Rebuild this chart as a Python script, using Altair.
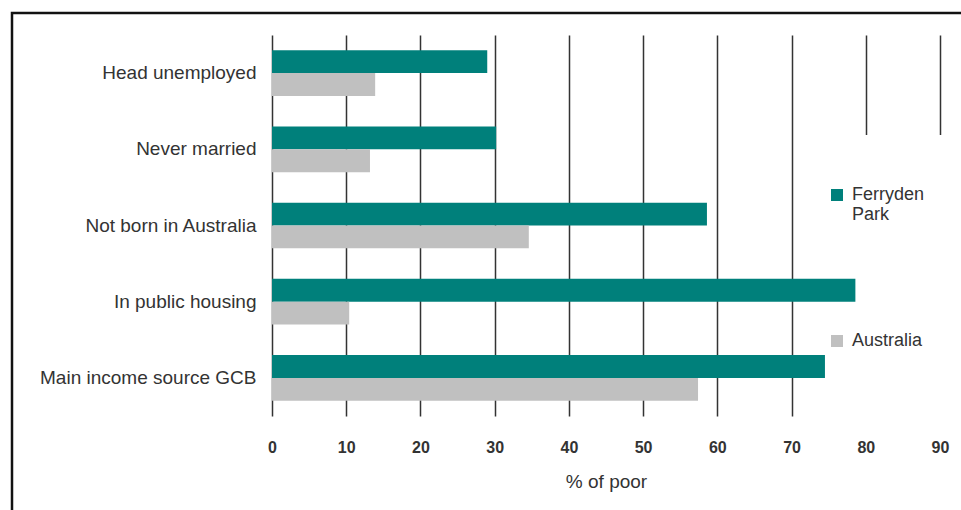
import altair as alt
import pandas as pd

categories = ["Head unemployed", "Never married", "Not born in Australia",
              "In public housing", "Main income source GCB"]
series = ["Ferryden Park", "Australia"]
ferryden = [29.0, 30.2, 58.6, 78.6, 74.5]
australia = [13.9, 13.2, 34.6, 10.4, 57.4]
ticks = [0, 10, 20, 30, 40, 50, 60, 70, 80, 90]
colors = ["#00807b", "#c0c0c0"]

rows = []
for c, f, a in zip(categories, ferryden, australia):
    rows.append({"category": c, "series": series[0], "value": f})
    rows.append({"category": c, "series": series[1], "value": a})
df = pd.DataFrame(rows)

FONT = "Liberation Sans"
TXT = "#333333"

# white box behind the legend (hides the grid there, stays under the bars)
mask = alt.Chart(alt.Data(values=[{"k": 1}])).mark_rect(
    fill="white", strokeWidth=0
).encode(
    x=alt.value(535), x2=alt.value(700),
    y=alt.value(100), y2=alt.value(383),
)

bars = alt.Chart(df).mark_bar().encode(
    y=alt.Y("category:N", sort=categories,
            scale=alt.Scale(paddingInner=0.4, paddingOuter=0.2),
            axis=alt.Axis(title=None, ticks=False, domain=False, grid=False,
                          labelPadding=16, labelFontSize=19, labelFont=FONT,
                          labelColor=TXT, labelLimit=400)),
    yOffset=alt.YOffset("series:N", sort=series),
    x=alt.X("value:Q", scale=alt.Scale(domain=[0, 90], nice=False),
            axis=alt.Axis(title="% of poor", values=ticks, ticks=False, domain=False,
                          grid=True, gridColor="#333333", gridWidth=1.5, gridOpacity=1,
                          labelFlush=False,
                          labelPadding=23, labelFontSize=16, labelFontWeight="bold",
                          labelFont=FONT, labelColor=TXT,
                          titleFontSize=19, titleFont=FONT, titleFontWeight="normal",
                          titleColor=TXT, titlePadding=17)),
    color=alt.Color("series:N", sort=series,
                    scale=alt.Scale(domain=series, range=colors),
                    legend=alt.Legend(
                        title=None,
                        orient="none", legendX=556, legendY=151,
                        padding=0,
                        symbolType="square", symbolSize=144, symbolStrokeWidth=0,
                        labelFont=FONT, labelFontSize=18, labelColor=TXT,
                        labelOffset=6, labelBaseline="middle",
                        rowPadding=108,
                        labelExpr="datum.label == 'Ferryden Park' ? ['Ferryden', 'Park'] : datum.label",
                    )),
)

frame = alt.Chart(alt.Data(values=[{"k": 1}])).mark_rect(
    fill="transparent", stroke="#111111", strokeWidth=2.5
).encode(
    x=alt.value(-260), x2=alt.value(720),
    y=alt.value(-22), y2=alt.value(520),
)

chart = alt.layer(mask, bars, frame).properties(
    width=668, height=381,
    autosize=alt.AutoSizeParams(type="none"),
    padding={"left": 272, "top": 35, "right": 21, "bottom": 94},
    view=alt.ViewBackground(stroke="transparent", strokeWidth=0, fill="white"),
).configure_view(
    stroke="transparent", strokeOpacity=0, strokeWidth=0
).configure_axis(
    domain=False, domainOpacity=0, tickOpacity=0
).configure(background="white")

chart.save("out.html", embed_options={"renderer": "svg", "actions": False})
